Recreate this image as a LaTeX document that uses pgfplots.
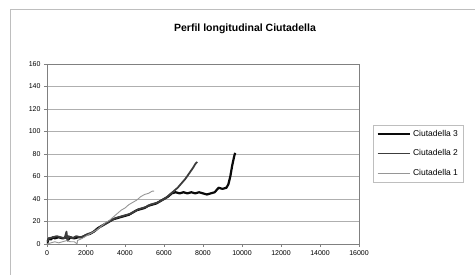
\documentclass[border=0pt]{standalone}
\usepackage{pgfplots}
\pgfplotsset{compat=1.18}
\usepackage{fontspec}
\setmainfont{Liberation Sans}
\definecolor{gridc}{RGB}{175,175,175}
\definecolor{framec}{RGB}{190,190,190}
\definecolor{cA}{RGB}{10,10,10}
\definecolor{cB}{RGB}{60,60,60}
\definecolor{cC}{RGB}{150,150,150}
\begin{document}
\begin{tikzpicture}
\draw[framec,line width=1pt] (10pt,0pt) -- (10pt,265pt) -- (475pt,265pt);
\node[font=\bfseries\fontsize{10.5}{12}\selectfont] at (245pt,246pt) {Perfil longitudinal Ciutadella};
\begin{axis}[
  at={(47pt,31pt)}, anchor=south west,
  scale only axis, width=312pt, height=180pt,
  xmin=0, xmax=16000, ymin=0, ymax=160,
  xtick={0,2000,...,16000}, ytick={0,20,...,160},
  scaled x ticks=false,
  /pgf/number format/assume math mode=true,
  /pgf/number format/1000 sep={},
  ticklabel style={font=\fontsize{7}{8}\selectfont},
  ymajorgrids, grid style={gridc,line width=0.8pt},
  axis line style={gray,line width=0.8pt},
  tick style={gray,line width=0.6pt},
  tick align=outside, major tick length=3pt,
  xtick pos=bottom, ytick pos=left,
  legend style={at={(1.045,0.503)},anchor=west,draw=framec,line width=0.8pt,
    font=\fontsize{8.5}{10}\selectfont, inner xsep=3pt, inner ysep=3pt, row sep=8pt},
  legend cell align=left,
  legend image post style={xscale=1.9},
]
\addplot[cA,line width=2.2pt,line join=round] coordinates {
(0,0) (50,3) (100,5) (200,4) (300,6) (400,5) (600,6) (800,5) (1000,6) (1100,4) (1200,6) (1400,5) (1600,6) (1800,6) (2000,8) (2200,9) (2400,11) (2600,14) (2800,16) (3000,18) (3200,20) (3400,22) (3600,23) (3800,24) (4000,25) (4200,26) (4400,28) (4600,30) (4800,31) (5000,32) (5200,34) (5400,35) (5600,36) (5800,38) (6000,40) (6200,42) (6400,45) (6600,46) (6800,45) (7000,46) (7200,45) (7400,46) (7600,45) (7800,46) (8000,45) (8200,44) (8400,45) (8600,46) (8700,48) (8800,50) (9000,49) (9200,50) (9300,53) (9400,60) (9500,70) (9600,78) (9650,81)
};
\addlegendentry{Ciutadella 3}
\addplot[cB,line width=1.8pt,line join=round] coordinates {
(0,2) (100,5) (300,6) (500,7) (700,6) (900,5) (1000,11) (1050,3) (1100,7) (1300,5) (1500,7) (1700,6) (1900,7) (2100,9) (2300,10) (2500,12) (2700,15) (2900,17) (3100,19) (3300,21) (3500,23) (3700,24) (3900,25) (4100,26) (4300,27) (4500,29) (4700,31) (4900,32) (5100,33) (5300,35) (5500,36) (5700,37) (5900,39) (6100,41) (6300,44) (6500,47) (6700,50) (6900,54) (7100,58) (7300,63) (7500,68) (7600,71) (7700,73)
};
\addlegendentry{Ciutadella 2}
\addplot[cC,line width=0.9pt,line join=round] coordinates {
(0,0) (200,1) (400,2) (600,1) (800,2) (1000,3) (1200,2) (1400,2) (1550,0) (1560,3) (1800,5) (2000,7) (2200,9) (2400,11) (2600,13) (2800,16) (3000,19) (3200,21) (3400,24) (3600,27) (3800,30) (4000,32) (4200,35) (4400,37) (4600,39) (4800,42) (5000,44) (5200,45) (5400,47) (5500,47)
};
\addlegendentry{Ciutadella 1}
\end{axis}
\pgfresetboundingbox
\path[use as bounding box] (0pt,0pt) rectangle (475pt,275pt);
\end{tikzpicture}
\end{document}
